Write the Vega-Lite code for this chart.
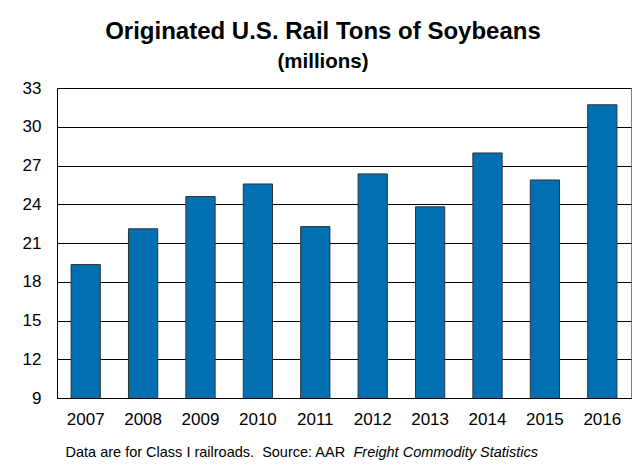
{
  "$schema": "https://vega.github.io/schema/vega-lite/v6.json",
  "width": 574,
  "height": 310,
  "autosize": {"type": "none"},
  "padding": {"left": 57, "top": 88, "right": 8, "bottom": 68},
  "background": "white",
  "config": {
    "font": "Liberation Sans",
    "view": {"stroke": "#808080", "strokeWidth": 1}
  },
  "title": {
    "text": "Originated U.S. Rail Tons of Soybeans",
    "subtitle": "(millions)",
    "font": "Liberation Sans",
    "fontSize": 24,
    "fontWeight": "bold",
    "color": "black",
    "subtitleFont": "Liberation Sans",
    "subtitleFontSize": 20.5,
    "subtitleFontWeight": "bold",
    "subtitleColor": "black",
    "subtitlePadding": 8,
    "anchor": "middle",
    "frame": "group",
    "dx": -21,
    "offset": 7
  },
  "data": {
    "values": [
      {"year": "2007", "tons": 19.33},
      {"year": "2008", "tons": 22.1},
      {"year": "2009", "tons": 24.6},
      {"year": "2010", "tons": 25.57},
      {"year": "2011", "tons": 22.27},
      {"year": "2012", "tons": 26.35},
      {"year": "2013", "tons": 23.8},
      {"year": "2014", "tons": 27.97},
      {"year": "2015", "tons": 25.88},
      {"year": "2016", "tons": 31.7}
    ]
  },
  "layer": [
    {
      "mark": {"type": "bar", "color": "#0070b2", "stroke": "#333333", "strokeWidth": 1, "clip": true},
      "encoding": {
        "x": {
          "field": "year",
          "type": "nominal",
          "scale": {"paddingInner": 0.49, "paddingOuter": 0.245},
          "axis": {
            "labelAngle": 0,
            "labelFontSize": 17,
            "labelColor": "black",
            "labelPadding": 13,
            "ticks": false,
            "tickSize": 0,
            "domainColor": "black",
            "title": "Data are for Class I railroads.\u00a0 Source: AAR",
            "titleFontSize": 14.5,
            "titleFontWeight": "normal",
            "titleColor": "black",
            "titleX": 8,
            "titleY": 58,
            "titleAlign": "left",
            "titleAnchor": "start",
            "titleBaseline": "alphabetic"
          }
        },
        "y": {
          "field": "tons",
          "type": "quantitative",
          "scale": {"domain": [9, 33], "nice": false, "zero": false},
          "axis": {
            "values": [9, 12, 15, 18, 21, 24, 27, 30, 33],
            "title": null,
            "labelFontSize": 17,
            "labelColor": "black",
            "labelPadding": 16,
            "ticks": false,
            "tickSize": 0,
            "domainColor": "black",
            "gridColor": "black",
            "gridWidth": 1
          }
        }
      }
    },
    {
      "mark": {"type": "point", "opacity": 0},
      "encoding": {
        "x": {
          "field": "year",
          "type": "nominal",
          "axis": {
            "orient": "bottom",
            "labels": false,
            "ticks": false,
            "domain": false,
            "grid": false,
            "title": "Freight Commodity Statistics",
            "titleFontSize": 14.5,
            "titleFontWeight": "normal",
            "titleFontStyle": "italic",
            "titleColor": "black",
            "titleX": 296,
            "titleY": 58,
            "titleAlign": "left",
            "titleAnchor": "start",
            "titleBaseline": "alphabetic"
          }
        }
      }
    }
  ],
  "resolve": {"scale": {"x": "independent"}}
}
